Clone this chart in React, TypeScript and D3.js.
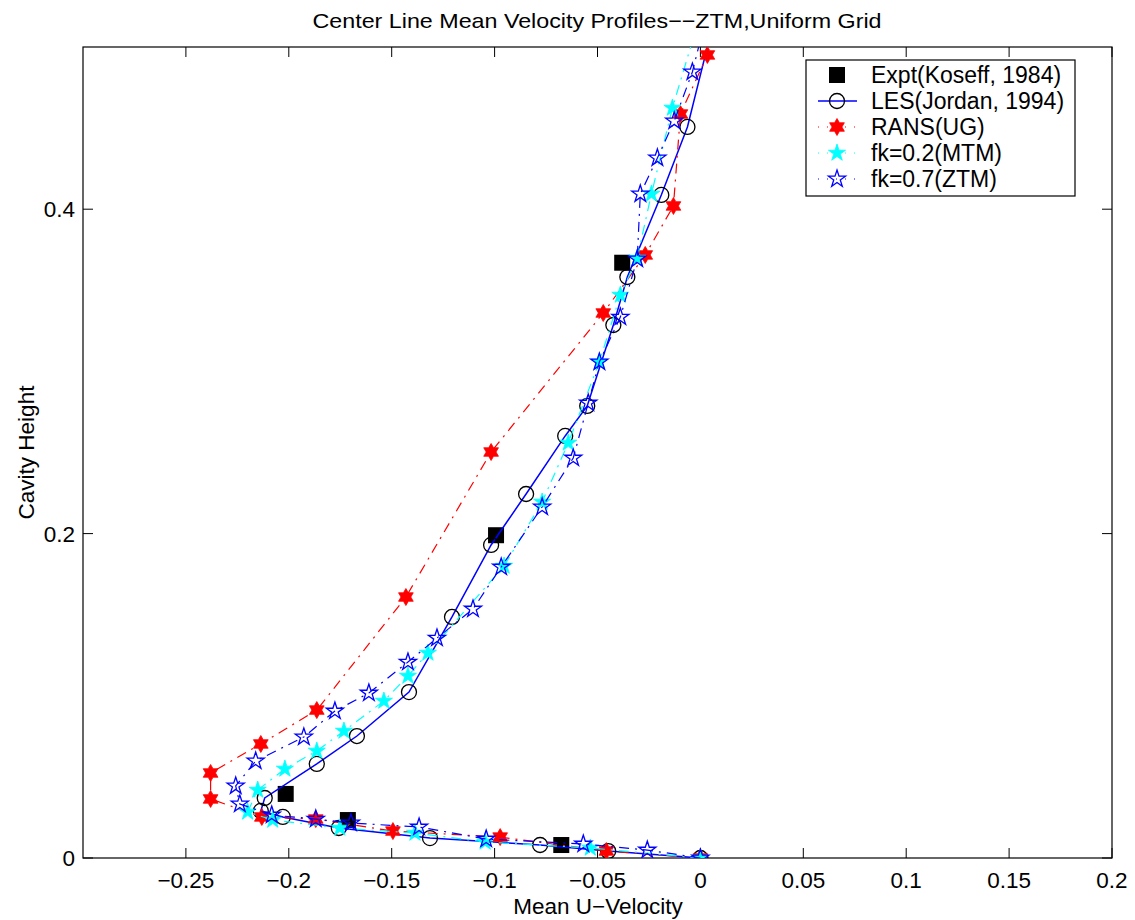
import React from "react";
import * as d3 from "d3";

// ---- Data ----
const exptX = [-0.0676, -0.1713, -0.2015, -0.0993, -0.038];
const exptY = [0.008, 0.0234, 0.0395, 0.199, 0.367];

const lesX = [0, -0.0448, -0.0779, -0.1314, -0.1757, -0.2029, -0.2136, -0.2117, -0.1864, -0.1669, -0.1416, -0.1207, -0.1017, -0.0847, -0.0657, -0.055, -0.0423, -0.0355, -0.019, -0.0063, 0.0073];
const lesY = [0, 0.0043, 0.008, 0.0123, 0.0185, 0.0253, 0.029, 0.037, 0.058, 0.0752, 0.1023, 0.1486, 0.193, 0.2244, 0.2602, 0.2787, 0.3286, 0.3582, 0.4088, 0.4507, 0.52];

const ransX = [0, -0.0457, -0.0973, -0.1494, -0.1869, -0.2131, -0.238, -0.238, -0.2136, -0.1864, -0.1431, -0.1017, -0.0472, -0.0268, -0.0131, -0.0097, 0.0034];
const ransY = [0, 0.0043, 0.0129, 0.0166, 0.024, 0.0253, 0.0364, 0.0524, 0.0703, 0.0912, 0.1609, 0.2503, 0.336, 0.3718, 0.402, 0.4587, 0.4951];

const mtmX = [0, -0.0535, -0.1046, -0.1387, -0.1752, -0.2078, -0.22, -0.2151, -0.2019, -0.1864, -0.1732, -0.1538, -0.1421, -0.1324, -0.0954, -0.0769, -0.0642, -0.0491, -0.0389, -0.0307, -0.0238, -0.0136, -0.0024];
const mtmY = [0, 0.0062, 0.0099, 0.0154, 0.0185, 0.0234, 0.0284, 0.0419, 0.0549, 0.066, 0.0783, 0.0968, 0.1122, 0.1264, 0.18, 0.2195, 0.2559, 0.3058, 0.3471, 0.3699, 0.4094, 0.4624, 0.51];

const ztmX = [0, -0.0258, -0.0569, -0.1041, -0.1367, -0.1698, -0.1869, -0.2083, -0.2238, -0.2258, -0.2161, -0.1927, -0.1776, -0.1611, -0.1421, -0.128, -0.1105, -0.0968, -0.0769, -0.0618, -0.0545, -0.0491, -0.0389, -0.0307, -0.0292, -0.0209, -0.0127, -0.0039, 0.0024];
const ztmY = [0, 0.0049, 0.0086, 0.0117, 0.0191, 0.0216, 0.024, 0.0265, 0.0333, 0.0444, 0.0598, 0.0746, 0.0906, 0.1017, 0.1208, 0.1356, 0.1535, 0.1794, 0.2164, 0.2466, 0.2805, 0.3058, 0.3335, 0.3693, 0.4094, 0.4316, 0.4544, 0.4846, 0.5166];

const xTicks = [-0.25, -0.2, -0.15, -0.1, -0.05, 0, 0.05, 0.1, 0.15, 0.2];
const xTickLabels = ["\u22120.25", "\u22120.2", "\u22120.15", "\u22120.1", "\u22120.05", "0", "0.05", "0.1", "0.15", "0.2"];
const yTicks = [0, 0.2, 0.4];
const yTickLabels = ["0", "0.2", "0.4"];

const legendLabels = ["Expt(Koseff, 1984)", "LES(Jordan, 1994)", "RANS(UG)", "fk=0.2(MTM)", "fk=0.7(ZTM)"];

const titleText = "Center Line Mean Velocity Profiles\u2212\u2212ZTM,Uniform Grid";
const xLabelText = "Mean U\u2212Velocity";
const yLabelText = "Cavity Height";

// ---- Layout ----
const W = 1135, H = 920;
const L = 83, R = 1112, T = 47, B = 858;
const FONT = "'Liberation Sans', Arial, Helvetica, sans-serif";

const zip = (xs: number[], ys: number[]) => xs.map((x, i) => [x, ys[i]] as [number, number]);

function starPath(cx: number, cy: number, n: number, ro: number, ri: number) {
  const pts: string[] = [];
  for (let i = 0; i < 2 * n; i++) {
    const r = i % 2 === 0 ? ro : ri;
    const a = -Math.PI / 2 + (i * Math.PI) / n;
    pts.push(`${(cx + r * Math.cos(a)).toFixed(2)},${(cy + r * Math.sin(a)).toFixed(2)}`);
  }
  return "M" + pts.join("L") + "Z";
}

type Kind = "square" | "circle" | "hex" | "pentF" | "pentO";

function Marker({ kind, cx, cy }: { kind: Kind; cx: number; cy: number }) {
  if (kind === "square") return <rect x={cx - 8} y={cy - 8} width={16} height={16} fill="#000" />;
  if (kind === "circle") return <circle cx={cx} cy={cy} r={7.5} fill="none" stroke="#000" strokeWidth={1.3} />;
  if (kind === "hex") return <path d={starPath(cx, cy, 6, 8.5, 8.5 / Math.sqrt(3))} fill="#ff0000" stroke="#ff0000" strokeWidth={0.8} />;
  if (kind === "pentF") return <path d={starPath(cx, cy, 5, 9, 9 * 0.382)} fill="#00ffff" stroke="#00ffff" strokeWidth={0.8} />;
  return <path d={starPath(cx, cy, 5, 9, 9 * 0.382)} fill="none" stroke="#0000ff" strokeWidth={1.3} />;
}

export default function App() {
  const x = d3.scaleLinear().domain([-0.3, 0.2]).range([L, R]);
  const y = d3.scaleLinear().domain([0, 0.5]).range([B, T]);
  const line = d3.line<[number, number]>().x((d) => x(d[0])).y((d) => y(d[1]));

  const series = [
    { data: zip(exptX, exptY), kind: "square" as Kind, color: "none", dash: "", width: 0 },
    { data: zip(lesX, lesY), kind: "circle" as Kind, color: "#0000ff", dash: "", width: 1.5 },
    { data: zip(ransX, ransY), kind: "hex" as Kind, color: "#ff0000", dash: "10,6,2,6", width: 1.2 },
    { data: zip(mtmX, mtmY), kind: "pentF" as Kind, color: "#00ffff", dash: "10,6,2,6", width: 1.2 },
    { data: zip(ztmX, ztmY), kind: "pentO" as Kind, color: "#0000ff", dash: "10,6,2,6", width: 1.2 },
  ];

  const legRows = [75, 101, 127, 153, 179];

  return (
    <svg width={W} height={H} style={{ position: "absolute", left: 0, top: 0, background: "#fff" }} fontFamily={FONT}>
      <defs>
        <clipPath id="plotclip">
          <rect x={L} y={T} width={R - L} height={B - T} />
        </clipPath>
      </defs>
      <rect x={0} y={0} width={W} height={H} fill="#fff" />
      <text x={597} y={28} textAnchor="middle" fontSize={21} textLength={569} lengthAdjust="spacingAndGlyphs">{titleText}</text>

      {/* axes box */}
      <rect x={L} y={T} width={R - L} height={B - T} fill="none" stroke="#000" strokeWidth={1.2} />
      {xTicks.map((t, i) => (
        <g key={"xt" + i}>
          <line x1={x(t)} x2={x(t)} y1={B} y2={B - 10} stroke="#000" strokeWidth={1} />
          <line x1={x(t)} x2={x(t)} y1={T} y2={T + 10} stroke="#000" strokeWidth={1} />
          <text x={x(t)} y={888} textAnchor="middle" fontSize={22.5}>{xTickLabels[i]}</text>
        </g>
      ))}
      {yTicks.map((t, i) => (
        <g key={"yt" + i}>
          <line x1={L} x2={L + 10} y1={y(t)} y2={y(t)} stroke="#000" strokeWidth={1} />
          <line x1={R} x2={R - 10} y1={y(t)} y2={y(t)} stroke="#000" strokeWidth={1} />
          <text x={75} y={y(t) + 8} textAnchor="end" fontSize={22.5}>{yTickLabels[i]}</text>
        </g>
      ))}
      <text x={598} y={914} textAnchor="middle" fontSize={22.5}>{xLabelText}</text>
      <text transform={`translate(34,${(T + B) / 2}) rotate(-90)`} textAnchor="middle" fontSize={22.5}>{yLabelText}</text>

      <g clipPath="url(#plotclip)">
        {series.map((s, si) => (
          <g key={"s" + si}>
            {s.width > 0 && (
              <path d={line(s.data) || ""} fill="none" stroke={s.color} strokeWidth={s.width} strokeDasharray={s.dash || undefined} />
            )}
            {s.data.map((d, i) => (
              <Marker key={i} kind={s.kind} cx={x(d[0])} cy={y(d[1])} />
            ))}
          </g>
        ))}
      </g>

      {/* legend */}
      <rect x={806} y={60} width={269} height={136} fill="#fff" stroke="#000" strokeWidth={1.2} />
      {series.map((s, i) => (
        <g key={"lg" + i}>
          {s.width > 0 && (
            <line x1={818} x2={857} y1={legRows[i]} y2={legRows[i]} stroke={s.color} strokeWidth={s.width} strokeDasharray={s.dash ? "1,8,1,8" : undefined} />
          )}
          <Marker kind={s.kind} cx={837} cy={legRows[i]} />
          <text x={871} y={legRows[i] + 8} fontSize={23}>{legendLabels[i]}</text>
        </g>
      ))}
    </svg>
  );
}
